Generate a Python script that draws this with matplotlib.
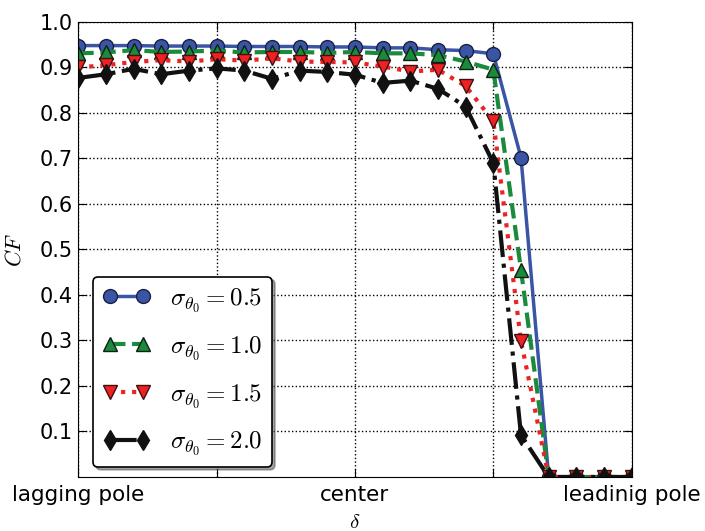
import numpy as np
import matplotlib.pyplot as plt

plt.rcParams['mathtext.fontset'] = 'cm'
plt.rcParams['font.family'] = 'DejaVu Sans'

# 21 positions from lagging pole to leading pole
pos = np.arange(21)

cf_05 = [0.948, 0.948, 0.948, 0.947, 0.947, 0.947, 0.946, 0.946, 0.946, 0.945,
         0.945, 0.943, 0.943, 0.939, 0.937, 0.930, 0.702, 0.0, 0.0, 0.0, 0.0]
cf_10 = [0.931, 0.933, 0.938, 0.934, 0.935, 0.937, 0.933, 0.934, 0.934, 0.932,
         0.934, 0.931, 0.931, 0.927, 0.913, 0.895, 0.455, 0.0, 0.0, 0.0, 0.0]
cf_15 = [0.900, 0.905, 0.912, 0.916, 0.913, 0.918, 0.915, 0.920, 0.913, 0.912,
         0.911, 0.902, 0.891, 0.895, 0.859, 0.782, 0.299, 0.0, 0.0, 0.0, 0.0]
cf_20 = [0.877, 0.885, 0.897, 0.885, 0.893, 0.898, 0.893, 0.875, 0.893, 0.890,
         0.884, 0.866, 0.871, 0.853, 0.814, 0.690, 0.092, 0.0, 0.0, 0.0, 0.0]

xtick_pos = [0, 5, 10, 15, 20]
xtick_labels = ['lagging pole', '', 'center', '', 'leadinig pole']
ytick_pos = [0.1, 0.2, 0.3, 0.4, 0.5, 0.6, 0.7, 0.8, 0.9, 1.0]

fig = plt.figure(figsize=(7.05, 5.31), dpi=100)
ax = fig.add_axes([0.111, 0.1017, 0.785, 0.857])

ax.plot(pos, cf_05, '-', color='#3a55a6', marker='o', ms=10, lw=2.5,
        mec='#1a2040', label=r'$\sigma_{\theta_0}=0.5$')
ax.plot(pos, cf_10, '--', color='#1b8a3c', marker='^', ms=10, lw=3,
        mec='#102010', label=r'$\sigma_{\theta_0}=1.0$')
ax.plot(pos, cf_15, ':', color='#ee2222', marker='v', ms=10, lw=3,
        mec='#401010', label=r'$\sigma_{\theta_0}=1.5$')
ax.plot(pos, cf_20, '-.', color='#111111', marker='d', ms=10, lw=3,
        mec='#111111', label=r'$\sigma_{\theta_0}=2.0$')

ax.set_xlim(0, 20)
ax.set_ylim(0, 1.0)
ax.set_xticks(xtick_pos)
ax.set_xticklabels(xtick_labels, fontsize=15.5)
ax.set_yticks(ytick_pos)
ax.set_yticklabels(['%.1f' % v for v in ytick_pos], fontsize=15)
ax.tick_params(direction='in', top=True, right=True, length=6)
ax.tick_params(axis='x', pad=6)
ax.tick_params(axis='y', pad=4)
ax.grid(True, linestyle=':', color='black', linewidth=1)
ax.set_xlabel(r'$\delta$', fontsize=15, labelpad=5)
ax.set_ylabel(r'$CF$', fontsize=16, labelpad=11)

leg = ax.legend(loc='lower left', bbox_to_anchor=(0.027, 0.022), borderaxespad=0,
                fontsize=18, shadow=True, fancybox=True, numpoints=2,
                handlelength=1.9, handletextpad=0.8, labelspacing=0.78,
                borderpad=0.38, framealpha=1)
leg.get_frame().set_edgecolor('black')
leg.get_frame().set_linewidth(1.2)

fig.savefig('out.png', dpi=100)
